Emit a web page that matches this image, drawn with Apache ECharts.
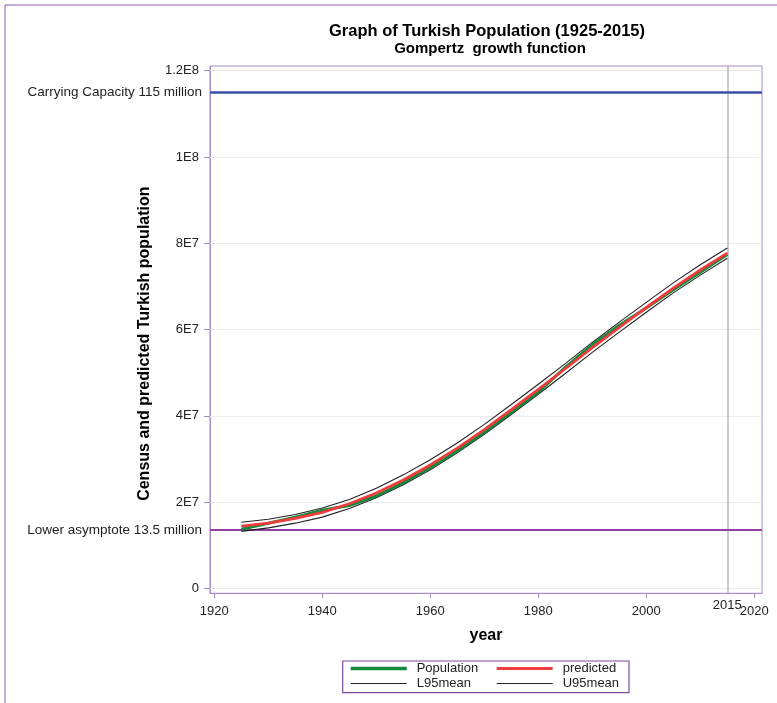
<!DOCTYPE html>
<html><head><meta charset="utf-8">
<script src="https://cdn.jsdelivr.net/npm/echarts@6/dist/echarts.min.js"></script>
<style>html,body{margin:0;padding:0;background:#fff}#c{width:777px;height:703px}</style>
</head><body><div id="c"></div>
<script>
// Values in millions
const years = [1925,1930,1935,1940,1945,1950,1955,1960,1965,1970,1975,1980,1985,1990,1995,2000,2005,2010,2015];
const population = [13.7,15.1,16.5,18.1,19.2,21.4,24.5,28.0,31.9,36.2,40.8,45.5,51.2,56.4,61.0,65.0,69.2,73.3,77.4];
const predicted  = [14.4,15.1,16.2,17.6,19.6,22.1,25.1,28.6,32.5,36.8,41.4,46.1,50.9,55.8,60.5,65.1,69.6,73.8,77.7];
const u95mean    = [15.3,16.0,17.1,18.6,20.6,23.2,26.3,29.8,33.7,38.0,42.6,47.3,52.1,57.0,61.7,66.3,70.8,75.0,78.9];
const l95mean    = [13.2,14.0,15.1,16.5,18.5,21.0,24.0,27.5,31.4,35.7,40.3,45.0,49.8,54.7,59.4,64.0,68.5,72.6,76.5];
const yTickValues = [0,20,40,60,80,100,120];
const yTickLabels = ['0','2E7','4E7','6E7','8E7','1E8','1.2E8'];
const xTickValues = [1920,1940,1960,1980,2000,2020];
const carryingCapacity = 115;
const lowerAsymptote = 13.5;
const markYear = 2015;

const FONT = "'Liberation Sans', Arial, sans-serif";
const BORDER = '#a68bc6';
const TXT = '#222';
const pairs = a => years.map((y, i) => [y, a[i]]);

const chart = echarts.init(document.getElementById('c'));
const lineSeries = (name, data, color, width, z) => ({
  name, type: 'line', data: pairs(data), symbol: 'none', showSymbol: false,
  lineStyle: {color, width}, itemStyle: {color}, z, silent: true
});
const legendItem = (name, left, top, h) => ({
  data: [name], left, top, itemWidth: 56, itemHeight: h, padding: 0, selectedMode: false,
  icon: 'rect',
  textStyle: {fontSize: 13, color: TXT, fontFamily: FONT, padding: [0, 0, 0, 5]}
});

chart.setOption({
  animation: false,
  title: [
    {text: 'Graph of Turkish Population (1925-2015)', left: 482, top: 18, textAlign: 'center',
     textStyle: {fontSize: 16.5, fontWeight: 'bold', color: '#000', fontFamily: FONT}},
    {text: 'Gompertz  growth function', left: 485, top: 36, textAlign: 'center',
     textStyle: {fontSize: 15, fontWeight: 'bold', color: '#000', fontFamily: FONT}}
  ],
  legend: [
    legendItem('Population', 350.7, 662, 3.5),
    legendItem('predicted', 496.7, 662, 3),
    legendItem('L95mean', 350.7, 677, 1.2),
    legendItem('U95mean', 496.7, 677, 1.2)
  ],
  grid: {left: 210, right: 15, top: 66, bottom: 109.7, show: true, borderColor: BORDER, borderWidth: 1, containLabel: false},
  xAxis: {
    type: 'value', min: 1919.2, max: 2021.43,
    axisLine: {show: true, onZero: false, lineStyle: {color: BORDER}},
    axisTick: {show: true, length: 5, customValues: xTickValues, lineStyle: {color: BORDER}},
    axisLabel: {customValues: xTickValues, margin: 12, fontSize: 13, color: TXT, fontFamily: FONT,
      formatter: v => String(v)},
    splitLine: {show: false},
    name: 'year', nameLocation: 'middle', nameGap: 34,
    nameTextStyle: {fontSize: 16, fontWeight: 'bold', color: '#000', fontFamily: FONT}
  },
  yAxis: {
    type: 'value', min: -1.16, max: 121.09,
    axisLine: {show: true, onZero: false, lineStyle: {color: BORDER}},
    axisTick: {show: true, length: 6, customValues: yTickValues, lineStyle: {color: BORDER}},
    axisLabel: {customValues: yTickValues, margin: 11, fontSize: 13, color: TXT, fontFamily: FONT,
      formatter: v => yTickLabels[yTickValues.indexOf(v)]},
    splitLine: {show: false},
    name: 'Census and predicted Turkish population', nameLocation: 'middle', nameGap: 57,
    nameTextStyle: {fontSize: 16, fontWeight: 'bold', color: '#000', fontFamily: FONT, padding: [0, 28, 0, 0]}
  },
  graphic: [
    {type: 'rect', shape: {x: 5, y: 5, width: 900, height: 900}, style: {fill: 'none', stroke: '#8a5fa8', lineWidth: 1}, silent: true, z: -10},
    {type: 'rect', shape: {x: 342.7, y: 661, width: 286.3, height: 31.7}, style: {fill: 'none', stroke: '#7b4d9e', lineWidth: 1.2}, silent: true}
  ],
  series: [
    {
      name: 'grid', type: 'line', data: [], z: 1, silent: true,
      markLine: {
        silent: true, symbol: 'none', animation: false, z: 1,
        lineStyle: {color: '#ececec', width: 1, type: 'solid'},
        label: {show: false},
        data: yTickValues.map(v => ({yAxis: v}))
      }
    },
    {
      name: 'refs', type: 'line', data: [], z: 2, silent: true,
      markLine: {
        silent: true, symbol: 'none', animation: false, z: 2,
        data: [
          {xAxis: markYear, lineStyle: {color: '#b8b8b8', width: 1.5, type: 'solid'},
           label: {show: true, position: 'start', formatter: String(markYear), distance: 5.5, fontSize: 13, color: TXT, fontFamily: FONT}},
          {yAxis: carryingCapacity, lineStyle: {color: '#3b4ea6', width: 2.5, type: 'solid'},
           label: {show: true, position: 'start', formatter: 'Carrying Capacity 115 million', distance: 8, fontSize: 13.5, color: TXT, fontFamily: FONT}},
          {yAxis: lowerAsymptote, lineStyle: {color: '#923fa3', width: 2, type: 'solid'},
           label: {show: true, position: 'start', formatter: 'Lower asymptote 13.5 million', distance: 8, fontSize: 13.5, color: TXT, fontFamily: FONT}}
        ]
      }
    },
    lineSeries('L95mean', l95mean, '#222', 1.1, 3),
    lineSeries('U95mean', u95mean, '#222', 1.1, 3),
    lineSeries('Population', population, '#12893d', 3, 4),
    lineSeries('predicted', predicted, '#f03c3c', 2.8, 5)
  ]
});
</script></body></html>
